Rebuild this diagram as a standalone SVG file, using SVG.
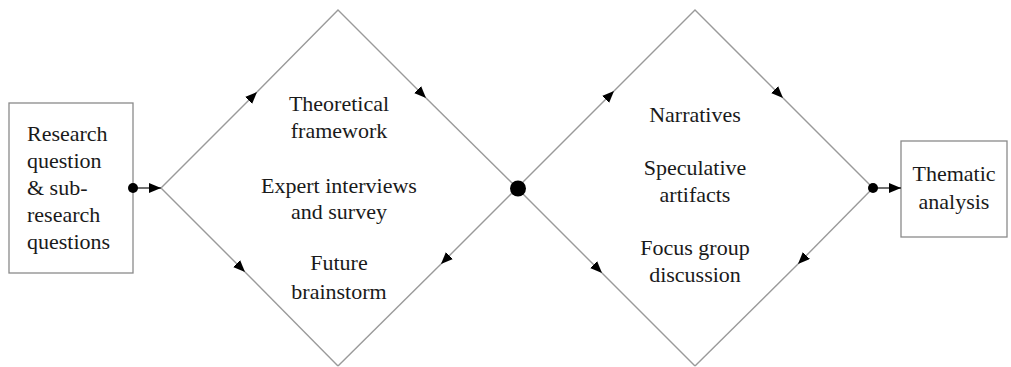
<svg xmlns="http://www.w3.org/2000/svg" width="1011" height="367" viewBox="0 0 1011 367">
<style>
.box{fill:none;stroke:#8a8a8a;stroke-width:1.3}
.edge{fill:none;stroke:#9a9a9a;stroke-width:1.4}
.link{fill:none;stroke:#222;stroke-width:1.3}
.t{font-family:"Liberation Serif","Times New Roman",serif;font-size:22px;fill:#1a1a1a}
.c{text-anchor:middle}
</style>
<defs>
<marker id="ah" viewBox="0 0 12 10" refX="12" refY="5" markerWidth="12" markerHeight="10" markerUnits="userSpaceOnUse" orient="auto">
<path d="M0,0 L12,5 L0,10 Z" fill="#000"/>
</marker>
</defs>
<rect width="1011" height="367" fill="#fff"/>
<g id="research">
<rect class="box" x="9" y="103" width="124" height="170"/>
<text class="t" x="27" y="141">Research</text>
<text class="t" x="27" y="168">question</text>
<text class="t" x="27" y="195">&amp; sub-</text>
<text class="t" x="27" y="222">research</text>
<text class="t" x="27" y="249">questions</text>
</g>
<g id="diamond1">
<text class="t c" x="339" y="111">Theoretical</text>
<text class="t c" x="339" y="138">framework</text>
<text class="t c" x="339" y="193">Expert interviews</text>
<text class="t c" x="339" y="219">and survey</text>
<text class="t c" x="339" y="270">Future</text>
<text class="t c" x="339" y="299">brainstorm</text>
</g>
<g id="diamond2">
<text class="t c" x="695" y="122">Narratives</text>
<text class="t c" x="695" y="175">Speculative</text>
<text class="t c" x="695" y="202">artifacts</text>
<text class="t c" x="695" y="255">Focus group</text>
<text class="t c" x="695" y="282">discussion</text>
</g>
<g id="thematic">
<rect class="box" x="901" y="141" width="106" height="96"/>
<text class="t c" x="954" y="181">Thematic</text>
<text class="t c" x="954" y="209">analysis</text>
</g>
<g id="connectors">
<!-- left diamond -->
<path class="edge" d="M161,188 L257,92" marker-end="url(#ah)"/>
<path class="edge" d="M257,92 L338,10 L426,98" marker-end="url(#ah)"/>
<path class="edge" d="M426,98 L517,188"/>
<path class="edge" d="M161,188 L245,272" marker-end="url(#ah)"/>
<path class="edge" d="M245,272 L338,366"/>
<path class="edge" d="M517,188 L441,264" marker-end="url(#ah)"/>
<path class="edge" d="M441,264 L338,366"/>
<!-- right diamond -->
<path class="edge" d="M517,188 L614,91" marker-end="url(#ah)"/>
<path class="edge" d="M614,91 L695,10 L783,98" marker-end="url(#ah)"/>
<path class="edge" d="M783,98 L873,188"/>
<path class="edge" d="M517,188 L602,273" marker-end="url(#ah)"/>
<path class="edge" d="M602,273 L695,366"/>
<path class="edge" d="M873,188 L798,264" marker-end="url(#ah)"/>
<path class="edge" d="M798,264 L695,366"/>
<!-- links -->
<path class="link" d="M133,188 L161,188" marker-end="url(#ah)"/>
<path class="link" d="M873,188 L901,188" marker-end="url(#ah)"/>
<circle cx="133" cy="188" r="5" fill="#000"/>
<circle cx="873" cy="188" r="5" fill="#000"/>
<circle cx="518" cy="188.5" r="8" fill="#000"/>
</g>
</svg>
